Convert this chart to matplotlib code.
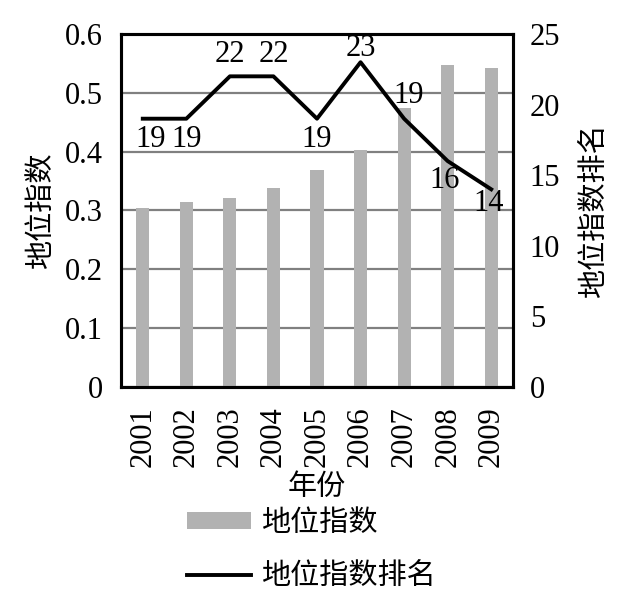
import matplotlib
matplotlib.use("Agg")
import matplotlib.pyplot as plt
from matplotlib.patches import Patch
from matplotlib.lines import Line2D

plt.rcParams['font.family'] = ['Liberation Serif', 'Noto Sans CJK SC']

years = ['2001', '2002', '2003', '2004', '2005', '2006', '2007', '2008', '2009']
index_values = [0.304, 0.314, 0.321, 0.338, 0.368, 0.402, 0.475, 0.547, 0.542]
rank_values = [19, 19, 22, 22, 19, 23, 19, 16, 14]
left_ticks = [0, 0.1, 0.2, 0.3, 0.4, 0.5, 0.6]
left_tick_labels = ['0', '0.1', '0.2', '0.3', '0.4', '0.5', '0.6']
right_ticks = [0, 5, 10, 15, 20, 25]

# label offsets in points (dx, dy)
label_offsets = [(6, -15), (0, -15), (0, 16), (0, 16), (0, -15), (0, 10), (3, 17), (-2, -14), (-2, -10)]

fig = plt.figure(figsize=(6.25, 5.95), dpi=100)
ax = fig.add_axes([0.1936, 0.3496, 0.6272, 0.5933])
x = list(range(len(years)))

ax.bar(x, index_values, width=0.3, color='#b2b2b2', zorder=2)
ax.set_ylim(0, 0.6)
ax.set_xlim(-0.5, len(years) - 0.5)
ax.set_yticks(left_ticks)
ax.set_yticklabels(left_tick_labels)
ax.yaxis.grid(True, color='#808080', linewidth=1.6, zorder=0)
ax.set_axisbelow(True)
ax.set_xticks(x)
ax.set_xticklabels(years, rotation=90)
ax.tick_params(axis='both', length=0, labelsize=22)
ax.tick_params(axis='x', pad=14)
ax.tick_params(axis='y', pad=13)
for s in ax.spines.values():
    s.set_linewidth(2.2)
    s.set_color('black')
ax.set_ylabel('地位指数', fontsize=21, labelpad=7)
ax.set_xlabel('年份', fontsize=21, labelpad=5)

ax2 = ax.twinx()
ax2.plot(x, rank_values, color='black', linewidth=2.8, zorder=3)
ax2.set_ylim(0, 25)
ax2.set_yticks(right_ticks)
ax2.tick_params(axis='y', length=0, labelsize=22, pad=12)
for s in ax2.spines.values():
    s.set_linewidth(2.2)
ax2.set_ylabel('地位指数排名', fontsize=21, labelpad=15)
for xi, v, (dx, dy) in zip(x, rank_values, label_offsets):
    ax2.annotate(str(v), (xi, v), xytext=(dx, dy), textcoords='offset points',
                 ha='center', va='center', fontsize=22, zorder=4)

handles = [Patch(facecolor='#b2b2b2', edgecolor='none'),
           Line2D([0], [0], color='black', linewidth=2.8)]
fig.legend(handles, ['地位指数', '地位指数排名'], loc='upper left',
           bbox_to_anchor=(187 / 625, 0.142), frameon=False, fontsize=21,
           handlelength=2.2, handleheight=0.52, handletextpad=0.35,
           labelspacing=0.88, borderpad=0, borderaxespad=0)

fig.savefig('out.png', dpi=100, facecolor='white')
